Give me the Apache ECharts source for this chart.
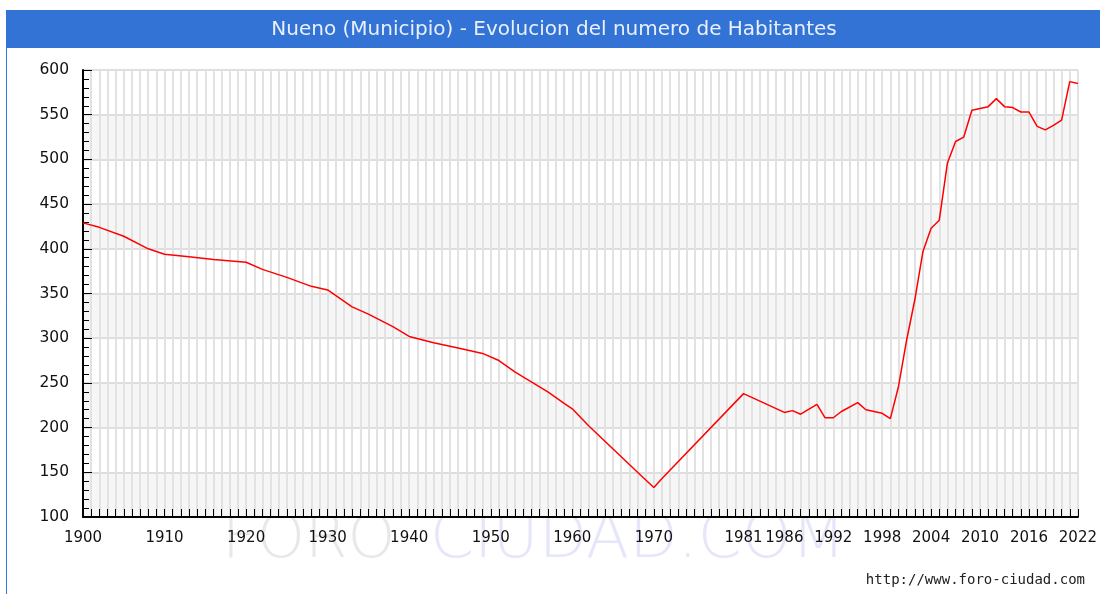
<!DOCTYPE html>
<html>
<head>
<meta charset="utf-8">
<title>Nueno (Municipio) - Evolucion del numero de Habitantes</title>
<script src="https://cdn.jsdelivr.net/npm/echarts@6/dist/echarts.min.js"></script>
<style>
  html, body { margin: 0; padding: 0; background: #fff; }
  #chart { width: 1100px; height: 594px; }
</style>
</head>
<body>
<div id="chart"></div>
<script>
// 数据：年份与人口
const years = [
  1900, 1902, 1905, 1908, 1910, 1913, 1916, 1920, 1922, 1925, 1928, 1930,
  1933, 1935, 1938, 1940, 1943, 1946, 1949, 1951, 1953, 1957, 1959, 1960,
  1962, 1965, 1968, 1970, 1971, 1981, 1986, 1987, 1988, 1990, 1991, 1992,
  1993, 1995, 1996, 1998, 1999, 2000, 2001, 2002, 2003, 2004, 2005, 2006,
  2007, 2008, 2009, 2010, 2011, 2012, 2013, 2014, 2015, 2016, 2017, 2018,
  2019, 2020, 2021, 2022
];
const population = [
  429, 424, 414, 400, 394, 391, 388, 385, 377, 368, 358, 354,
  335, 327, 313, 302, 295, 289, 283, 275, 262, 240, 227, 221,
  202, 176, 150, 133, 143, 238, 217, 219, 215, 226, 211, 211,
  218, 228, 220, 216, 210, 246, 298, 343, 397, 423, 432, 496,
  520, 525, 555, 557, 559, 568, 559, 558, 553, 553, 537, 533,
  538, 544, 587, 585
];
// x 轴上显示的刻度标签
const xLabelYears = [1900, 1910, 1920, 1930, 1940, 1950, 1960, 1970, 1981, 1986, 1992, 1998, 2004, 2010, 2016, 2022];

const titleText = 'Nueno (Municipio) - Evolucion del numero de Habitantes';
const siteText = 'http://www.foro-ciudad.com';

const chart = echarts.init(document.getElementById('chart'));

const seriesData = years.map((y, i) => [y, population[i]]);

const option = {
  animation: false,
  backgroundColor: '#fff',
  textStyle: { fontFamily: 'DejaVu Sans' },
  graphic: [
    // 外框
    {
      type: 'rect', z: -20,
      shape: { x: 6.5, y: 10.5, width: 1200, height: 700 },
      style: { fill: 'none', stroke: '#3273d5', lineWidth: 1 }
    },
    // 标题栏
    {
      type: 'rect', z: -19,
      shape: { x: 6, y: 10, width: 1100, height: 38 },
      style: { fill: '#3273d5' }
    },
    {
      type: 'text', z: -18, x: 554, y: 30,
      style: {
        text: titleText, fill: '#eaf0fb', font: '20px "DejaVu Sans"',
        textAlign: 'center', textVerticalAlign: 'middle'
      }
    },
    // 水印
    {
      type: 'text', z: -30, x: 222, y: 541,
      style: {
        text: 'FORO', fill: '#e8e8e8', font: '200 61px "DejaVu Sans"',
        textAlign: 'left', textVerticalAlign: 'middle'
      }
    },
    {
      type: 'text', z: -30, x: 430, y: 541,
      style: {
        text: 'CIUDAD.COM', fill: '#e6e6fa', font: '200 63px "DejaVu Sans"',
        textAlign: 'left', textVerticalAlign: 'middle'
      }
    },
    // 网址
    {
      type: 'text', x: 1085, y: 580,
      style: {
        text: siteText, fill: '#222', font: '14px "DejaVu Sans Mono"',
        textAlign: 'right', textVerticalAlign: 'middle'
      }
    }
  ],
  grid: { left: 83, right: 22, top: 70, bottom: 77, containLabel: false },
  xAxis: {
    type: 'value',
    min: 1900,
    max: 2022,
    interval: 1,
    axisLine: { lineStyle: { color: '#000', width: 2 } },
    axisTick: { inside: true, length: 8, lineStyle: { color: '#000', width: 1 } },
    axisLabel: {
      margin: 14,
      color: '#111',
      fontSize: 15,
      fontFamily: 'DejaVu Sans',
      showMinLabel: true,
      showMaxLabel: true,
      formatter: v => (xLabelYears.indexOf(v) >= 0 ? String(v) : '')
    },
    splitLine: { show: true, lineStyle: { color: '#e2e2e2', width: 2 } }
  },
  yAxis: {
    type: 'value',
    min: 100,
    max: 600,
    interval: 50,
    axisLine: { show: true, lineStyle: { color: '#000', width: 2 } },
    axisTick: { inside: true, length: 9, lineStyle: { color: '#000', width: 1 } },
    minorTick: { show: true, splitNumber: 5, length: 6, lineStyle: { color: '#000', width: 1 } },
    axisLabel: { margin: 14, color: '#111', fontSize: 15.5, fontFamily: 'DejaVu Sans' },
    splitLine: { show: true, lineStyle: { color: '#dedede', width: 2 } },
    splitArea: { show: true, areaStyle: { color: ['#f6f6f6', '#ffffff'] } }
  },
  series: [{
    type: 'line',
    data: seriesData,
    showSymbol: false,
    symbol: 'none',
    lineStyle: { color: '#ff0000', width: 1.5 },
    z: 5
  }]
};

chart.setOption(option);
</script>
</body>
</html>
